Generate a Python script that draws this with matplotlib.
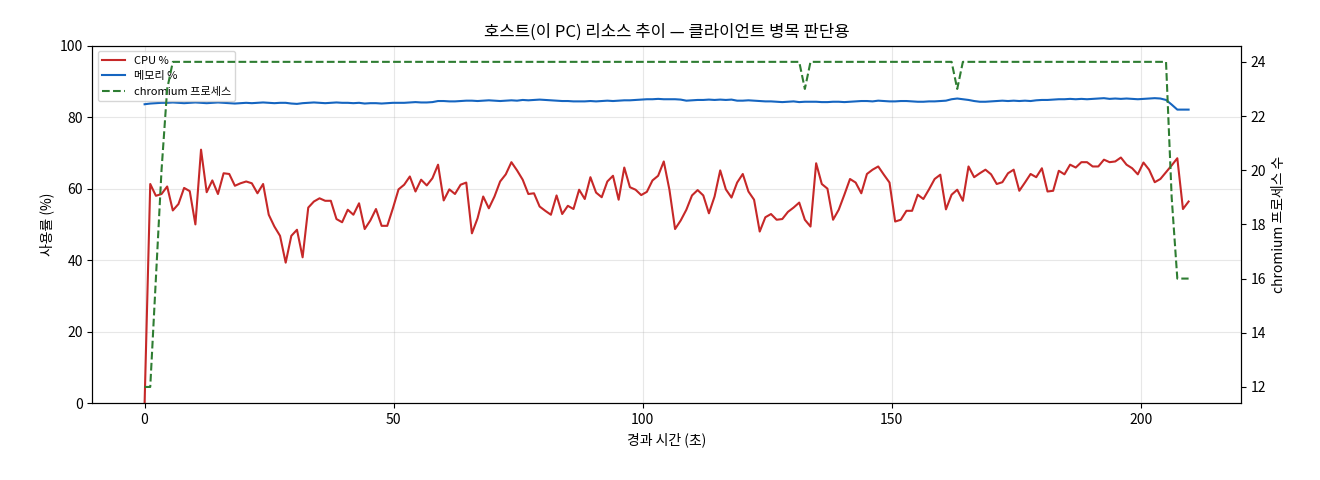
import numpy as np
import matplotlib.pyplot as plt

plt.rcParams['font.family'] = ['Noto Sans CJK KR', 'DejaVu Sans']

cpu = [0, 61.3, 58, 58.5, 60.6, 53.9, 55.7, 60.2, 59.3, 50, 70.9, 59, 62.3, 58.5, 64.3, 64.1,
       60.8, 61.5, 62, 61.5, 58.7, 61.3, 52.7, 49.4, 46.8, 39.3, 46.8, 48.5, 40.8, 54.7, 56.4, 57.3,
       56.6, 56.6, 51.5, 50.6, 54.1, 52.7, 55.9, 48.7, 51.1, 54.3, 49.6, 49.6, 54.5, 59.8, 61.1, 63.4,
       59.2, 62.5, 60.9, 62.9, 66.7, 56.7, 59.8, 58.5, 61.1, 61.7, 47.5, 51.7, 57.8, 54.5, 57.8,
       62, 64, 67.4, 65.1, 62.5, 58.5, 58.7, 55, 53.8, 52.7, 58.1, 52.9, 55.2, 54.3, 59.7, 57.1,
       63.2, 58.9, 57.6, 62, 63.6, 56.9, 65.9, 60.4, 59.7, 58.2, 59.1, 62.3, 63.6, 67.6,
       59.7, 48.7, 51.1, 54.1, 58.1, 59.6, 58.1, 53.1, 57.8, 65.1, 59.8, 57.5, 61.7, 64.1, 59.2,
       56.9, 48, 52, 52.9, 51.3, 51.5, 53.5, 54.7, 56.1, 51.3, 49.4, 67.1, 61.3, 60, 51.3,
       54.1, 58.3, 62.7, 61.7, 58.7, 64.1, 65.3, 66.2, 63.9, 61.7, 50.8, 51.3, 53.8, 53.8, 58.3,
       57.1, 59.8, 62.7, 63.9, 54.2, 58.3, 59.7, 56.6, 66.2, 63.2, 64.3, 65.3, 64, 61.3, 61.8,
       64.3, 65.3, 59.4, 61.7, 64.1, 63.2, 65.7, 59.2, 59.4, 65, 64, 66.7, 65.9, 67.4, 67.4, 66.2,
       66.2, 68.1, 67.4, 67.6, 68.7, 66.7, 65.7, 64, 67.3, 65.3, 61.8, 62.7, 64.6, 66.5, 68.5,
       54.3, 56.4]

mem = [83.6, 83.8, 83.9, 84.0, 84.0, 84.1, 84.0, 83.9, 84.0, 84.1,
       84.0, 83.9, 84.0, 84.1, 84.0, 83.9, 83.8, 83.9, 84.0, 83.9,
       84.0, 84.1, 84.0, 83.9, 84.0, 84.0, 83.8, 83.7, 83.9, 84.0,
       84.1, 84.0, 83.9, 84.0, 84.1, 84.0, 84.0, 83.9, 84.0, 83.8,
       83.9, 83.9, 83.8, 83.9, 84.0, 84.0, 84.0, 84.1, 84.2, 84.1,
       84.1, 84.2, 84.5, 84.5, 84.4, 84.4, 84.5, 84.6, 84.6, 84.5,
       84.6, 84.7, 84.6, 84.5, 84.6, 84.7, 84.6, 84.8, 84.7, 84.8,
       84.9, 84.8, 84.7, 84.6, 84.5, 84.5, 84.4, 84.4, 84.4, 84.5,
       84.4, 84.5, 84.6, 84.5, 84.6, 84.7, 84.7, 84.8, 84.9, 85.0,
       85.0, 85.1, 85.0, 85.0, 85.0, 84.9, 84.6, 84.7, 84.8, 84.8,
       84.9, 84.8, 84.9, 84.8, 84.9, 84.6, 84.6, 84.7, 84.6, 84.5,
       84.4, 84.4, 84.3, 84.2, 84.3, 84.4, 84.2, 84.3, 84.3, 84.3,
       84.2, 84.2, 84.3, 84.3, 84.2, 84.3, 84.4, 84.5, 84.5, 84.4,
       84.6, 84.5, 84.4, 84.4, 84.5, 84.5, 84.4, 84.3, 84.3, 84.4,
       84.4, 84.5, 84.6, 85.0, 85.2, 85.0, 84.8, 84.5, 84.3, 84.3,
       84.4, 84.5, 84.6, 84.5, 84.6, 84.5, 84.6, 84.5, 84.7, 84.8,
       84.8, 84.9, 85.0, 85.0, 85.1, 85.0, 85.1, 85.0, 85.1, 85.2,
       85.3, 85.1, 85.2, 85.1, 85.2, 85.1, 85.0, 85.1, 85.2, 85.3,
       85.2, 84.8, 83.5, 82.1, 82.1, 82.1]

chromium = [12, 12, 16, 20, 23] + [24] * 177 + [19, 16, 16, 16]
chromium[117] = 23
chromium[144] = 23

# 샘플 간격 약 1.13초
t = np.arange(len(cpu)) * (209.6 / (len(cpu) - 1))

fig, ax = plt.subplots(figsize=(13.2, 4.8), dpi=100)
l1, = ax.plot(t, cpu, color='#c62828', lw=1.5, label='CPU %')
l2, = ax.plot(t, mem, color='#1565c0', lw=1.5, label='메모리 %')
ax.set_ylim(0, 100)
ax.set_xlabel('경과 시간 (초)')
ax.set_ylabel('사용률 (%)')
ax.grid(True, alpha=0.3)
ax.set_title('호스트(이 PC) 리소스 추이 — 클라이언트 병목 판단용')

ax2 = ax.twinx()
l3, = ax2.plot(t, chromium, color='#2e7d32', lw=1.5, ls='--', label='chromium 프로세스')
ax2.set_ylabel('chromium 프로세스 수')

ax.legend(handles=[l1, l2, l3], loc='upper left', fontsize=8)
fig.subplots_adjust(left=0.07, right=0.94, top=0.905, bottom=0.16)
fig.savefig('out.png')
